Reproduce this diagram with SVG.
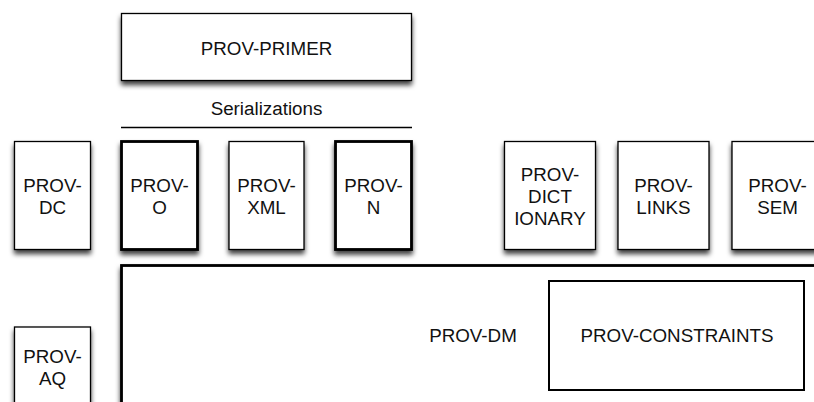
<svg xmlns="http://www.w3.org/2000/svg" width="814" height="402" viewBox="0 0 814 402">
<defs>
<filter id="sh" x="-20%" y="-20%" width="140%" height="150%">
<feDropShadow dx="0" dy="4" stdDeviation="2.5" flood-color="#000" flood-opacity="0.75"/>
</filter>
<style>
.b{fill:#fff;stroke:#000;stroke-width:1.3;filter:url(#sh)}
.t{fill:#fff;stroke:#000;stroke-width:2.8;filter:url(#sh)}
.m{fill:#fff;stroke:#000;stroke-width:2}
text{font-family:"Liberation Sans",Arial,Helvetica,sans-serif;font-size:18.8px;fill:#111;text-anchor:middle}
</style>
</defs>
<rect width="814" height="402" fill="#fff"/>
<g id="prov-dm"><rect class="t" x="121.5" y="265.5" width="720" height="200"/><text x="473" y="342">PROV-DM</text></g>
<g id="prov-constraints"><rect class="m" x="549" y="281" width="255" height="109"/><text x="677" y="342">PROV-CONSTRAINTS</text></g>
<g id="prov-primer"><rect class="b" x="121.5" y="13.5" width="290" height="67"/><text x="266.5" y="54.5">PROV-PRIMER</text></g>
<g id="serializations"><text x="266.5" y="115">Serializations</text><line x1="121" y1="127.5" x2="412" y2="127.5" stroke="#000" stroke-width="1.3"/></g>
<g id="prov-dc"><rect class="b" x="14.5" y="141.5" width="76" height="108"/><text x="52.5" y="191.5">PROV-</text><text x="52.5" y="213.5">DC</text></g>
<g id="prov-o"><rect class="t" x="121.5" y="141.5" width="76" height="108"/><text x="159.5" y="191.5">PROV-</text><text x="159.5" y="213.5">O</text></g>
<g id="prov-xml"><rect class="b" x="229" y="141.5" width="75" height="108"/><text x="266.5" y="191.5">PROV-</text><text x="266.5" y="213.5">XML</text></g>
<g id="prov-n"><rect class="t" x="335.5" y="141.5" width="76" height="108"/><text x="373.5" y="191.5">PROV-</text><text x="373.5" y="213.5">N</text></g>
<g id="prov-dictionary"><rect class="b" x="504.5" y="141.5" width="91" height="108"/><text x="550" y="181">PROV-</text><text x="550" y="203">DICT</text><text x="550" y="225">IONARY</text></g>
<g id="prov-links"><rect class="b" x="618" y="141.5" width="91" height="108"/><text x="663.5" y="191.5">PROV-</text><text x="663.5" y="213.5">LINKS</text></g>
<g id="prov-sem"><rect class="b" x="732" y="141.5" width="91" height="108"/><text x="777.5" y="191.5">PROV-</text><text x="777.5" y="213.5">SEM</text></g>
<g id="prov-aq"><rect class="b" x="14.5" y="327" width="76" height="110"/><text x="52.5" y="363">PROV-</text><text x="52.5" y="385">AQ</text></g>
<g id="connectors"></g>
</svg>
